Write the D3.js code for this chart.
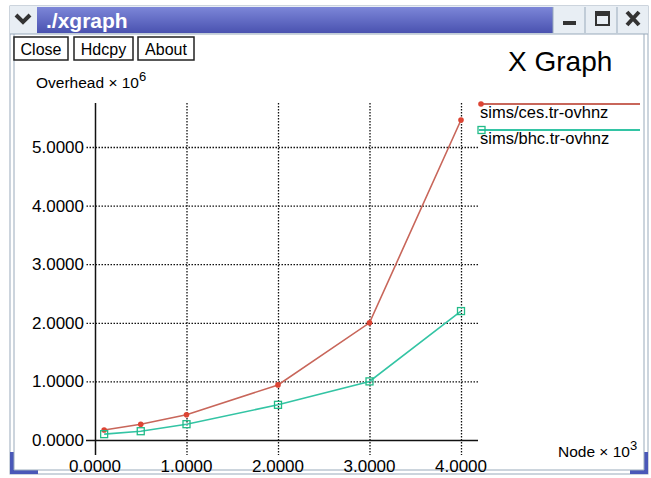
<!DOCTYPE html>
<html>
<head>
<meta charset="utf-8">
<script src="https://cdn.jsdelivr.net/npm/d3@7"></script>
<style>
  body { margin: 0; background: #fff; }
  svg { display: block; font-family: "Liberation Sans", Arial, sans-serif; }
</style>
</head>
<body>
<svg id="chart" width="651" height="478"></svg>
<script>
const nodes = [0.1, 0.5, 1.0, 2.0, 3.0, 4.0];
const cesOverhead = [0.17, 0.27, 0.43, 0.94, 2.0, 5.46];
const bhcOverhead = [0.1, 0.15, 0.27, 0.6, 1.0, 2.2];
const seriesNames = ['sims/ces.tr-ovhnz', 'sims/bhc.tr-ovhnz'];
const xTicks = [0, 1, 2, 3, 4];
const yTicks = [0, 1, 2, 3, 4, 5];

const svg = d3.select('#chart');

// window frame
svg.append('rect').attr('x', 10).attr('y', 6).attr('width', 638).attr('height', 468)
  .attr('fill', '#fff').attr('stroke', '#9ab').attr('stroke-width', 1);

const defs = svg.append('defs');
const grad = defs.append('linearGradient').attr('id', 'tb').attr('x1', 0).attr('x2', 0).attr('y1', 0).attr('y2', 1);
grad.append('stop').attr('offset', 0).attr('stop-color', '#7c86d8');
grad.append('stop').attr('offset', 1).attr('stop-color', '#4a52b0');

svg.append('rect').attr('x', 10).attr('y', 6).attr('width', 638).attr('height', 28).attr('fill', '#e8eef4');
svg.append('rect').attr('x', 37).attr('y', 7).attr('width', 516).attr('height', 26).attr('fill', 'url(#tb)');
svg.append('text').attr('x', 46).attr('y', 28).attr('fill', '#fff')
  .attr('font-size', 21).attr('font-weight', 'bold').text('./xgraph');
// menu arrow
svg.append('path').attr('d', 'M16,15 L23,22 L30,15').attr('fill', 'none')
  .attr('stroke', '#333').attr('stroke-width', 4);
// right buttons
[553, 585, 617].forEach(x => {
  svg.append('line').attr('x1', x).attr('x2', x).attr('y1', 7).attr('y2', 33).attr('stroke', '#9ab');
});
svg.append('rect').attr('x', 563).attr('y', 21).attr('width', 13).attr('height', 4).attr('fill', '#333');
svg.append('rect').attr('x', 596).attr('y', 12).attr('width', 13).attr('height', 13)
  .attr('fill', 'none').attr('stroke', '#333').attr('stroke-width', 2);
svg.append('rect').attr('x', 596).attr('y', 12).attr('width', 13).attr('height', 4).attr('fill', '#333');
svg.append('path').attr('d', 'M627,12 L639,25 M639,12 L627,25').attr('stroke', '#333').attr('stroke-width', 4);
svg.append('line').attr('x1', 10).attr('x2', 648).attr('y1', 34).attr('y2', 34).attr('stroke', '#9ab');

// bottom corners
svg.append('rect').attr('x', 10).attr('y', 452).attr('width', 28).attr('height', 22).attr('fill', '#4a58b8');
svg.append('rect').attr('x', 14).attr('y', 452).attr('width', 24).attr('height', 18).attr('fill', '#fff');
svg.append('rect').attr('x', 630).attr('y', 452).attr('width', 18).attr('height', 22).attr('fill', '#4a58b8');
svg.append('rect').attr('x', 630).attr('y', 452).attr('width', 14).attr('height', 18).attr('fill', '#fff');
svg.append('line').attr('x1', 14).attr('x2', 14).attr('y1', 34).attr('y2', 470).attr('stroke', '#9ab');
svg.append('line').attr('x1', 644).attr('x2', 644).attr('y1', 34).attr('y2', 470).attr('stroke', '#9ab');
svg.append('line').attr('x1', 14).attr('x2', 644).attr('y1', 470).attr('y2', 470).attr('stroke', '#9ab');

// buttons
[['Close', 14, 54], ['Hdcpy', 74, 59], ['About', 138, 56]].forEach(([t, x, w]) => {
  svg.append('rect').attr('x', x).attr('y', 37).attr('width', w).attr('height', 23)
    .attr('fill', '#fff').attr('stroke', '#222').attr('stroke-width', 1.5);
  svg.append('text').attr('x', x + w / 2).attr('y', 55).attr('text-anchor', 'middle')
    .attr('font-size', 16).text(t);
});

svg.append('text').attr('x', 508).attr('y', 71).attr('font-size', 28).text('X Graph');

const x = d3.scaleLinear().domain([0, 4]).range([95, 461]);
const y = d3.scaleLinear().domain([0, 5]).range([440, 147]);

// grid via axes
const gx = svg.append('g').attr('transform', 'translate(0,103)')
  .call(d3.axisBottom(x).tickValues(xTicks).tickSize(352).tickFormat(''));
gx.select('.domain').remove();
gx.selectAll('line').attr('stroke', '#111').attr('stroke-dasharray', '1.5,1.5').attr('stroke-width', 1.3);
gx.selectAll('.tick').filter(d => d === 0).select('line').attr('stroke-dasharray', null).attr('stroke-width', 1.5);

const gy = svg.append('g').attr('transform', 'translate(478,0)')
  .call(d3.axisLeft(y).tickValues(yTicks).tickSize(392).tickFormat(''));
gy.select('.domain').remove();
gy.selectAll('line').attr('stroke', '#111').attr('stroke-dasharray', '1.5,1.5').attr('stroke-width', 1.3);
gy.selectAll('.tick').filter(d => d === 0).select('line').attr('stroke-dasharray', null).attr('stroke-width', 1.5);

// tick labels
svg.append('g').selectAll('text').data(yTicks).join('text')
  .attr('x', 84).attr('y', d => y(d) + 6).attr('text-anchor', 'end')
  .attr('font-size', 17).text(d => d3.format('.4f')(d));
svg.append('g').selectAll('text').data(xTicks).join('text')
  .attr('x', d => x(d)).attr('y', 472).attr('text-anchor', 'middle')
  .attr('font-size', 17).text(d => d3.format('.4f')(d));

// axis titles
const yt = svg.append('text').attr('x', 36).attr('y', 88).attr('font-size', 15.5);
yt.append('tspan').text('Overhead \u00d7 10');
yt.append('tspan').attr('dy', -7).attr('font-size', 13).text('6');
const xt = svg.append('text').attr('x', 558).attr('y', 457).attr('font-size', 15.5);
xt.append('tspan').text('Node \u00d7 10');
xt.append('tspan').attr('dy', -7).attr('font-size', 13).text('3');

// series
const colors = ['#c8665a', '#33c4a4'];
const line = d3.line().x((d, i) => x(nodes[i])).y(d => y(d));
[cesOverhead, bhcOverhead].forEach((vals, k) => {
  svg.append('path').datum(vals).attr('d', line).attr('fill', 'none')
    .attr('stroke', colors[k]).attr('stroke-width', 1.6);
});
svg.append('g').selectAll('circle').data(cesOverhead).join('circle')
  .attr('cx', (d, i) => x(nodes[i])).attr('cy', d => y(d)).attr('r', 2.8).attr('fill', '#dd4433');
svg.append('g').selectAll('rect').data(bhcOverhead).join('rect')
  .attr('x', (d, i) => x(nodes[i]) - 3.5).attr('y', d => y(d) - 3.5)
  .attr('width', 7).attr('height', 7).attr('fill', 'none')
  .attr('stroke', '#22bb88').attr('stroke-width', 1.3);

// legend
seriesNames.forEach((name, k) => {
  const ly = 104 + k * 26;
  svg.append('line').attr('x1', 479).attr('x2', 640).attr('y1', ly).attr('y2', ly)
    .attr('stroke', colors[k]).attr('stroke-width', 2);
  if (k === 0) {
    svg.append('circle').attr('cx', 481).attr('cy', ly).attr('r', 2.8).attr('fill', '#dd4433');
  } else {
    svg.append('rect').attr('x', 478).attr('y', ly - 3.5).attr('width', 7).attr('height', 7)
      .attr('fill', 'none').attr('stroke', '#22bb88').attr('stroke-width', 1.3);
  }
  svg.append('text').attr('x', 480).attr('y', ly + 14).attr('font-size', 16.5).text(name);
});
</script>
</body>
</html>
